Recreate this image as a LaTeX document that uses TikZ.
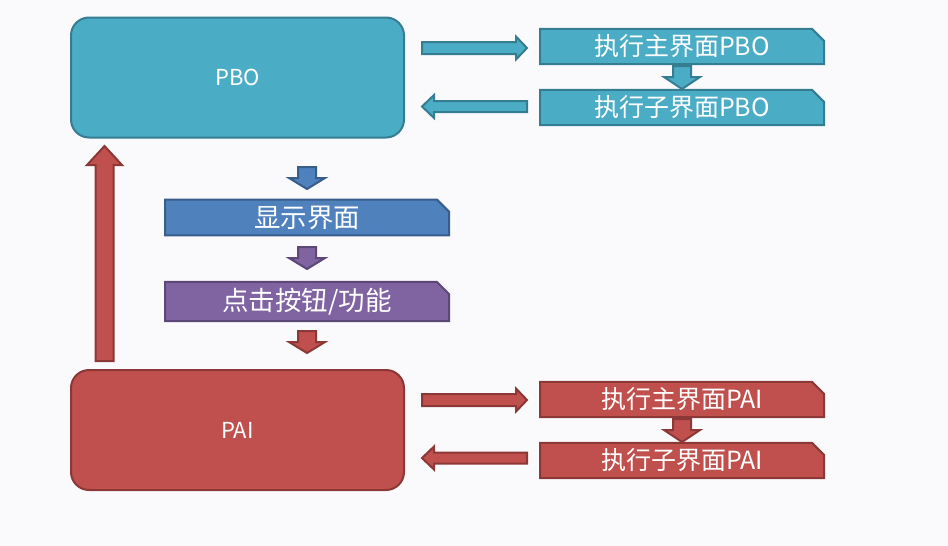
\documentclass[tikz,border=0pt]{standalone}
\usepackage{fontspec}
\newfontfamily\cjk{Noto Sans CJK SC}
\usetikzlibrary{shapes.misc}
\definecolor{bgc}{HTML}{FAFAFD}
\definecolor{tealF}{HTML}{4BACC6}
\definecolor{tealD}{HTML}{357D91}
\definecolor{redF}{HTML}{C0504D}
\definecolor{redD}{HTML}{8C3836}
\definecolor{blueF}{HTML}{4F81BD}
\definecolor{blueD}{HTML}{385D8A}
\definecolor{purF}{HTML}{8064A2}
\definecolor{purD}{HTML}{5C4776}
\tikzset{
  bigbox/.style={rounded corners=18pt, line width=2pt, minimum width=333pt, minimum height=120pt,
    text=white, font=\cjk\fontsize{22}{26}\selectfont},
  snipbox/.style={chamfered rectangle, chamfered rectangle corners=north east,
    chamfered rectangle xsep=6pt, chamfered rectangle ysep=6pt, line width=2pt,
    minimum width=284pt, minimum height=33pt, inner sep=0pt,
    text=white, font=\cjk\fontsize{25}{29}\selectfont},
  midtext/.style={font=\cjk\fontsize{26.5}{30}\selectfont},
  tealS/.style={fill=tealF, draw=tealD},
  redS/.style={fill=redF, draw=redD},
  blueS/.style={fill=blueF, draw=blueD},
  purS/.style={fill=purF, draw=purD},
  pics/barrow/.style args={#1/#2/#3/#4}{code={
    \path[pic actions, line width=2pt, line join=miter]
      (0,-#2) -- (#1-#4,-#2) -- (#1-#4,-#3) -- (#1,0) -- (#1-#4,#3) -- (#1-#4,#2) -- (0,#2) -- cycle;
  }}
}
\begin{document}
\begin{tikzpicture}[x=1pt,y=-1pt]
\fill[bgc] (0,0) rectangle (948,546);
\useasboundingbox (0,0) rectangle (948,546);

% main boxes
\node[bigbox, tealS] (pbo) at (237.5,77.5) {PBO};
\node[bigbox, redS] (pai) at (237.5,430) {PAI};

% right boxes
\node[snipbox, tealS] (pm) at (682,46.5) {执行主界面PBO};
\node[snipbox, tealS] (ps) at (682,107.5) {执行子界面PBO};
\node[snipbox, redS] (am) at (682,399.5) {执行主界面PAI};
\node[snipbox, redS] (as) at (682,460.5) {执行子界面PAI};

% middle boxes
\node[snipbox, midtext, blueS] (show) at (307,217.5) {显示界面};
\node[snipbox, midtext, purS] (click) at (307,301.5) {点击按钮/功能};

% block arrows top
\pic[tealS] at (422,48) {barrow=105/6/11.5/11};
\pic[tealS, rotate=180] at (527,106.5) {barrow=105/5.5/11.5/12};
\pic[tealS, rotate=-90] at (682,66) {barrow=23/9/18/12};

% block arrows bottom
\pic[redS] at (422,400) {barrow=105/6/11.5/11};
\pic[redS, rotate=180] at (527,458) {barrow=105/5.5/11.5/12};
\pic[redS, rotate=-90] at (682,419) {barrow=23/9/18/12};

% middle arrows
\pic[blueS, rotate=-90] at (307,167) {barrow=22/9/18/11};
\pic[purS, rotate=-90] at (307,247) {barrow=22/9/18/11};
\pic[redS, rotate=-90] at (307,331) {barrow=22/9/18/11};

% up arrow
\pic[redS, rotate=90] at (104.5,361) {barrow=215/9/17.5/19};
\end{tikzpicture}
\end{document}
